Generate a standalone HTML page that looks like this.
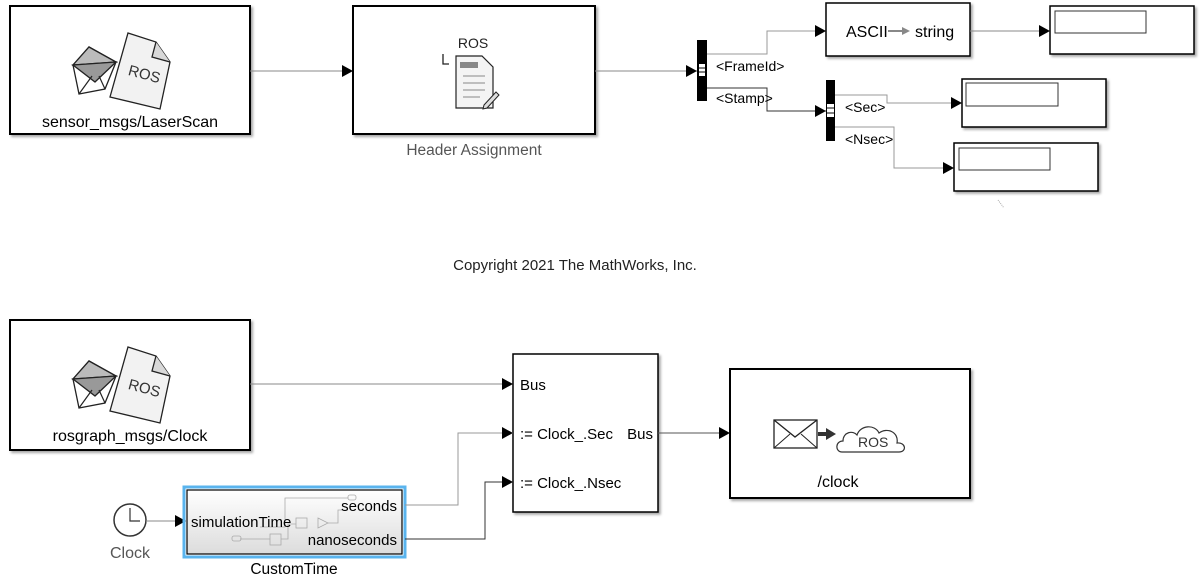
<!DOCTYPE html>
<html><head><meta charset="utf-8"><style>
html,body{margin:0;padding:0;background:#fff;}
svg{display:block;font-family:"Liberation Sans",Arial,sans-serif;}
</style></head><body>
<svg width="1200" height="582" viewBox="0 0 1200 582" xmlns="http://www.w3.org/2000/svg">
<defs>
<filter id="sh" x="-5%" y="-5%" width="115%" height="115%"><feDropShadow dx="2" dy="2" stdDeviation="1.2" flood-color="#000" flood-opacity="0.35"/></filter>
<g id="rosicon">
  <polygon points="128,33 156,42 170,62 160,109 110,97" fill="#f2f2f2" stroke="#222" stroke-width="1.3"/>
  <polyline points="156,42 152,57 170,62" fill="#d8d8d8" stroke="#222" stroke-width="1.3"/>
  <text x="128" y="78" font-size="15" fill="#333" transform="rotate(15 140 74)">ROS</text>
  <polygon points="73,65 89,47 116,62 105,89 79,94" fill="#fff" stroke="#222" stroke-width="1.3"/>
  <polygon points="73,65 89,47 116,62" fill="#bbb" stroke="#222" stroke-width="1.3"/>
  <polygon points="73,65 116,62 95,82" fill="#999" stroke="#222" stroke-width="1.3"/>
  <line x1="79" y1="94" x2="92" y2="76" stroke="#222" stroke-width="1.2"/>
  <line x1="105" y1="89" x2="99" y2="76" stroke="#222" stroke-width="1.2"/>
</g>
<marker id="ar" markerWidth="11" markerHeight="12" refX="11" refY="6" orient="auto" markerUnits="userSpaceOnUse"><path d="M0,0 L11,6 L0,12 z" fill="#000"/></marker>
<linearGradient id="gr" x1="0" y1="0" x2="0" y2="1"><stop offset="0" stop-color="#fff"/><stop offset="1" stop-color="#dcdcdc"/></linearGradient>
</defs>

<!-- Top row -->
<rect x="10" y="6" width="240" height="128" fill="#fff" stroke="#000" stroke-width="2" filter="url(#sh)"/>
<use href="#rosicon"/>
<text x="130" y="127" font-size="16" text-anchor="middle">sensor_msgs/LaserScan</text>

<line x1="250" y1="71" x2="353" y2="71" stroke="#888" stroke-width="1" marker-end="url(#ar)"/>

<rect x="353" y="6" width="242" height="128" fill="#fff" stroke="#000" stroke-width="2" filter="url(#sh)"/>
<text x="473" y="48" font-size="14" text-anchor="middle" fill="#222">ROS</text>
<path d="M443,54 v10 h6" fill="none" stroke="#222" stroke-width="1.3"/>
<polygon points="456,56 482,56 493,67 493,108 456,108" fill="#f4f4f4" stroke="#222" stroke-width="1.2"/>
<rect x="460" y="62" width="18" height="6" fill="#888"/>
<line x1="463" y1="76" x2="485" y2="76" stroke="#888"/><line x1="463" y1="83" x2="485" y2="83" stroke="#888"/><line x1="463" y1="90" x2="485" y2="90" stroke="#888"/><line x1="463" y1="97" x2="480" y2="97" stroke="#888"/>
<path d="M484,105 l12,-13 l3,3 l-12,13 l-4,1 z" fill="#ddd" stroke="#222"/>
<text x="474" y="155" font-size="15.5" text-anchor="middle" fill="#555">Header Assignment</text>

<line x1="595" y1="71" x2="697" y2="71" stroke="#888" marker-end="url(#ar)"/>
<rect x="697" y="40" width="10" height="61" fill="#000"/>
<rect x="699" y="64" width="6" height="12" fill="#fff"/>
<line x1="699" y1="68" x2="705" y2="68" stroke="#000"/><line x1="699" y1="72" x2="705" y2="72" stroke="#000"/>

<polyline points="707,54 767,54 767,31 826,31" fill="none" stroke="#999" marker-end="url(#ar)"/>
<text x="716" y="71" font-size="14">&lt;FrameId&gt;</text>
<polyline points="707,88 767,88 767,111 826,111" fill="none" stroke="#333" marker-end="url(#ar)"/>
<text x="716" y="103" font-size="14">&lt;Stamp&gt;</text>

<rect x="826" y="3" width="144" height="53" fill="#fff" stroke="#000" stroke-width="1.5" filter="url(#sh)"/>
<text x="846" y="37" font-size="16">ASCII</text>
<line x1="888" y1="31" x2="904" y2="31" stroke="#888" stroke-width="2"/><path d="M902,27 l8,4 l-8,4 z" fill="#888"/>
<text x="915" y="37" font-size="16">string</text>

<line x1="970" y1="31" x2="1050" y2="31" stroke="#888" marker-end="url(#ar)"/>
<rect x="1050" y="6" width="144" height="48" fill="#fff" stroke="#000" stroke-width="1.5" filter="url(#sh)"/>
<rect x="1055" y="11" width="91" height="22" fill="#fff" stroke="#333"/>

<rect x="826" y="80" width="9" height="61" fill="#000"/>
<rect x="827" y="104" width="7" height="13" fill="#fff"/>
<line x1="827" y1="108" x2="834" y2="108" stroke="#000"/><line x1="827" y1="113" x2="834" y2="113" stroke="#000"/>

<polyline points="835,95 887,95 887,103 962,103" fill="none" stroke="#999" marker-end="url(#ar)"/>
<text x="845" y="112" font-size="14">&lt;Sec&gt;</text>
<rect x="962" y="79" width="144" height="48" fill="#fff" stroke="#000" stroke-width="1.5" filter="url(#sh)"/>
<rect x="966" y="83" width="92" height="23" fill="#fff" stroke="#333"/>

<polyline points="835,127 894,127 894,168 954,168" fill="none" stroke="#999" marker-end="url(#ar)"/>
<text x="845" y="144" font-size="14">&lt;Nsec&gt;</text>
<rect x="954" y="143" width="144" height="48" fill="#fff" stroke="#000" stroke-width="1.5" filter="url(#sh)"/>
<rect x="959" y="148" width="91" height="22" fill="#fff" stroke="#333"/>
<line x1="998" y1="200" x2="1004" y2="208" stroke="#aaa" stroke-dasharray="1,1"/>

<text x="575" y="270" font-size="15" text-anchor="middle" fill="#222">Copyright 2021 The MathWorks, Inc.</text>

<!-- Bottom row -->
<rect x="10" y="320" width="240" height="130" fill="#fff" stroke="#000" stroke-width="2" filter="url(#sh)"/>
<use href="#rosicon" transform="translate(0,314)"/>
<text x="130" y="441" font-size="16" text-anchor="middle">rosgraph_msgs/Clock</text>

<line x1="250" y1="384" x2="513" y2="384" stroke="#888" marker-end="url(#ar)"/>

<rect x="513" y="354" width="145" height="158" fill="#fff" stroke="#000" stroke-width="1.5" filter="url(#sh)"/>
<text x="520" y="390" font-size="15">Bus</text>
<text x="520" y="439" font-size="15">:= Clock_.Sec</text>
<text x="653" y="439" font-size="15" text-anchor="end">Bus</text>
<text x="520" y="488" font-size="15">:= Clock_.Nsec</text>

<line x1="658" y1="433" x2="730" y2="433" stroke="#555" marker-end="url(#ar)"/>
<rect x="730" y="369" width="240" height="129" fill="#fff" stroke="#000" stroke-width="2" filter="url(#sh)"/>
<rect x="774" y="420" width="43" height="28" fill="#fff" stroke="#222" stroke-width="1.3"/>
<polyline points="774,420 795,437 817,420" fill="none" stroke="#222" stroke-width="1.3"/>
<line x1="774" y1="448" x2="790" y2="434" stroke="#222"/><line x1="817" y1="448" x2="801" y2="434" stroke="#222"/>
<line x1="818" y1="434" x2="828" y2="434" stroke="#333" stroke-width="4"/><path d="M826,428 l10,6 l-10,6 z" fill="#333"/>
<path d="M842,452 c-7,0 -7,-11 1,-11 c0,-9 10,-11 14,-6 c3,-10 18,-11 22,-2 c8,-6 20,-1 18,10 c9,-1 10,9 2,9 z" fill="#fff" stroke="#333" stroke-width="1.2"/>
<text x="858" y="447" font-size="14" fill="#333">ROS</text>
<text x="838" y="487" font-size="16" text-anchor="middle">/clock</text>

<circle cx="130" cy="520" r="16" fill="#fff" stroke="#333" stroke-width="1.5"/>
<polyline points="130,508 130,521 140,521" fill="none" stroke="#333" stroke-width="1.2"/>
<text x="130" y="558" font-size="16" text-anchor="middle" fill="#555">Clock</text>
<line x1="146" y1="521" x2="186" y2="521" stroke="#888" marker-end="url(#ar)"/>

<rect x="184" y="487" width="221" height="70" fill="none" stroke="#5ab4ee" stroke-width="3"/>
<rect x="187" y="490" width="215" height="64" fill="url(#gr)" stroke="#000" stroke-width="1.2"/>
<g stroke="#aaa" fill="none" stroke-width="0.8">
<polyline points="260,527 285,527 285,498 348,498"/><rect x="348" y="495" width="8" height="5" rx="2"/>
<rect x="296" y="518" width="11" height="10"/><rect x="270" y="534" width="11" height="11"/>
<polyline points="240,539 270,539"/><rect x="232" y="536" width="9" height="5" rx="2"/>
<polygon points="318,518 328,523 318,528"/><polyline points="328,523 338,523 338,510 348,510"/>
<polyline points="281,539 288,539 288,524 296,524"/>
</g>
<text x="191" y="527" font-size="15">simulationTime</text>
<text x="397" y="511" font-size="15" text-anchor="end">seconds</text>
<text x="397" y="545" font-size="15" text-anchor="end">nanoseconds</text>
<text x="294" y="574" font-size="15.5" text-anchor="middle">CustomTime</text>

<polyline points="405,505 458,505 458,433 513,433" fill="none" stroke="#999" marker-end="url(#ar)"/>
<polyline points="405,539 485,539 485,482 513,482" fill="none" stroke="#333" marker-end="url(#ar)"/>
</svg>
</body></html>
